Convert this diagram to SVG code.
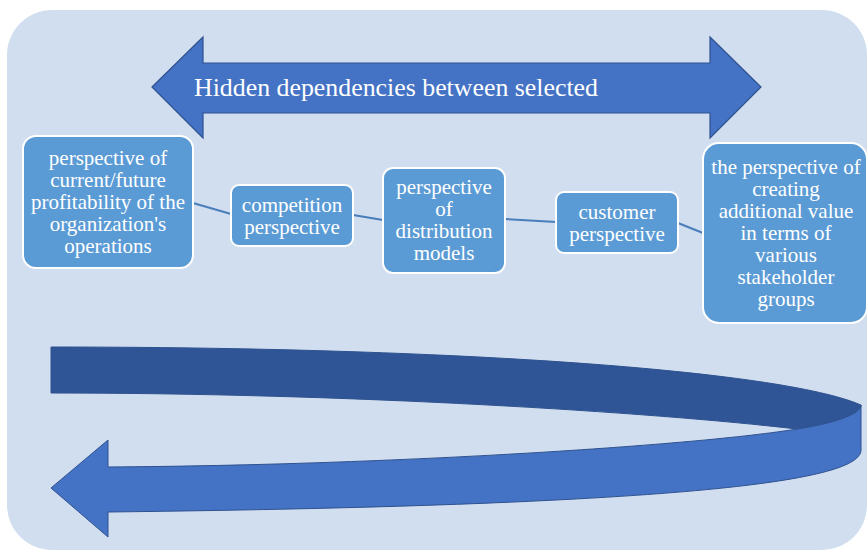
<svg xmlns="http://www.w3.org/2000/svg" width="868" height="552" viewBox="0 0 868 552">
<style>
.node{fill:#5B9BD5;stroke:#FFFFFF;stroke-width:2}
.lbl{fill:#FFFFFF;font-size:21px;text-anchor:middle}
.conn{stroke:#4A7EBB;stroke-width:2;fill:none}
</style>
<rect x="7" y="10" width="860" height="540" rx="45" ry="45" fill="#D0DEEF"/>
<g id="top-arrow">
<path d="M152,87 L203,37 L203,63 L710,63 L710,37 L761,87 L710,138 L710,113 L203,113 L203,138 Z" fill="#4472C4" stroke="#2F528F" stroke-width="1.2"/>
<text x="194" y="96" fill="#FFFFFF" font-family="Liberation Serif, serif" font-size="25" textLength="404" lengthAdjust="spacingAndGlyphs">Hidden dependencies between selected</text>
</g>
<g id="connectors">
<line class="conn" x1="193" y1="203" x2="231" y2="214"/>
<line class="conn" x1="353" y1="215" x2="383" y2="220"/>
<line class="conn" x1="505" y1="219" x2="556" y2="222"/>
<line class="conn" x1="678" y1="223" x2="703" y2="233"/>
</g>
<g font-family="Liberation Serif, serif">
<g id="node1">
<rect class="node" x="23" y="136" width="170" height="132" rx="13"/>
<text class="lbl" x="108" y="165">perspective of</text>
<text class="lbl" x="108" y="187">current/future</text>
<text class="lbl" x="108" y="209">profitability of the</text>
<text class="lbl" x="108" y="231">organization's</text>
<text class="lbl" x="108" y="253">operations</text>
</g>
<g id="node2">
<rect class="node" x="231" y="185" width="122" height="61" rx="8"/>
<text class="lbl" x="292" y="212">competition</text>
<text class="lbl" x="292" y="234">perspective</text>
</g>
<g id="node3">
<rect class="node" x="383" y="168" width="122" height="105" rx="10"/>
<text class="lbl" x="444" y="194">perspective</text>
<text class="lbl" x="444" y="216">of</text>
<text class="lbl" x="444" y="238">distribution</text>
<text class="lbl" x="444" y="260">models</text>
</g>
<g id="node4">
<rect class="node" x="556" y="192" width="122" height="61" rx="8"/>
<text class="lbl" x="617" y="219">customer</text>
<text class="lbl" x="617" y="241">perspective</text>
</g>
<g id="node5">
<rect class="node" x="703" y="143" width="164" height="180" rx="16"/>
<text class="lbl" x="786" y="174">the perspective of</text>
<text class="lbl" x="786" y="196">creating</text>
<text class="lbl" x="786" y="218">additional value</text>
<text class="lbl" x="786" y="240">in terms of</text>
<text class="lbl" x="786" y="262">various</text>
<text class="lbl" x="786" y="284">stakeholder</text>
<text class="lbl" x="786" y="306">groups</text>
</g>
</g>
<g id="bottom-arrow">
<path d="M51,347 C450,347 780,370 861,405 C861,415 830,424 797,429 C650,412 350,393 51,393 Z" fill="#2F5597" stroke="#2F528F" stroke-width="1"/>
<path d="M797,429 C830,424 861,415 861,405 L861,450 C861,480 700,505 108,512 L108,537 L51,488 L108,440 L108,467 C400,465 700,445 797,429 Z" fill="#4472C4" stroke="#2F528F" stroke-width="1"/>
</g>
</svg>
